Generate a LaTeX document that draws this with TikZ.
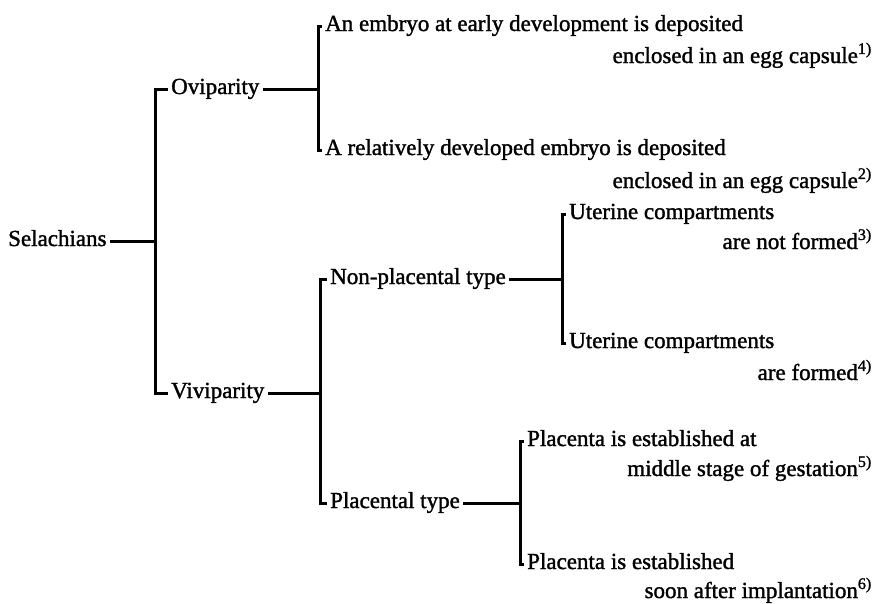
\documentclass[tikz,border=0pt]{standalone}
\usepackage{fontspec}
\setmainfont[FakeBold=1.4]{Liberation Serif}
\begin{document}
\begin{tikzpicture}[x=1pt,y=-1pt,
  lbl/.style={anchor=west,inner ysep=0pt,inner xsep=3pt,text height=15.5pt,text depth=5.5pt,font=\fontsize{23}{27}\selectfont},
  rlbl/.style={anchor=east,inner ysep=0pt,inner xsep=0pt,text height=15.5pt,text depth=5.5pt,font=\fontsize{23}{27}\selectfont},
  br/.style={line width=3pt,line join=miter}]
\useasboundingbox (0,0) rectangle (878,603);
% level 0
\node[lbl] (sel) at (5,241) {Selachians};
\coordinate (j0) at (155,241);
% level 1
\node[lbl] (ovi) at (168,89) {Oviparity};
\node[lbl] (vivi) at (168,393) {Viviparity};
\coordinate (j1) at (318,89);
\coordinate (j2) at (320,393);
% level 2 (viviparity)
\node[lbl] (np) at (327,279) {Non-placental type};
\node[lbl] (pl) at (327,503) {Placental type};
\coordinate (j3) at (562,279);
\coordinate (j4) at (520,503);
% leaves
\node[lbl] (l1) at (322,26) {An embryo at early development is deposited};
\node[rlbl] (l1b) at (872,58) {enclosed in an egg capsule\textsuperscript{1)}};
\node[lbl] (l2) at (322,150) {A relatively developed embryo is deposited};
\node[rlbl] (l2b) at (872,183) {enclosed in an egg capsule\textsuperscript{2)}};
\node[lbl] (l3) at (566,214) {Uterine compartments};
\node[rlbl] (l3b) at (872,244) {are not formed\textsuperscript{3)}};
\node[lbl] (l4) at (566,343) {Uterine compartments};
\node[rlbl] (l4b) at (872,375) {are formed\textsuperscript{4)}};
\node[lbl] (l5) at (524,441) {Placenta is established at};
\node[rlbl] (l5b) at (872,471) {middle stage of gestation\textsuperscript{5)}};
\node[lbl] (l6) at (524,564) {Placenta is established};
\node[rlbl] (l6b) at (872,593) {soon after implantation\textsuperscript{6)}};
% connectors
\draw[br] (sel.east) -- (j0);
\draw[br] (ovi.west) -| (j0) |- (vivi.west);
\draw[br] (ovi.east) -- (j1);
\draw[br] (l1.west) -| (j1) |- (l2.west);
\draw[br] (vivi.east) -- (j2);
\draw[br] (np.west) -| (j2) |- (pl.west);
\draw[br] (np.east) -- (j3);
\draw[br] (l3.west) -| (j3) |- (l4.west);
\draw[br] (pl.east) -- (j4);
\draw[br] (l5.west) -| (j4) |- (l6.west);
\end{tikzpicture}
\end{document}
